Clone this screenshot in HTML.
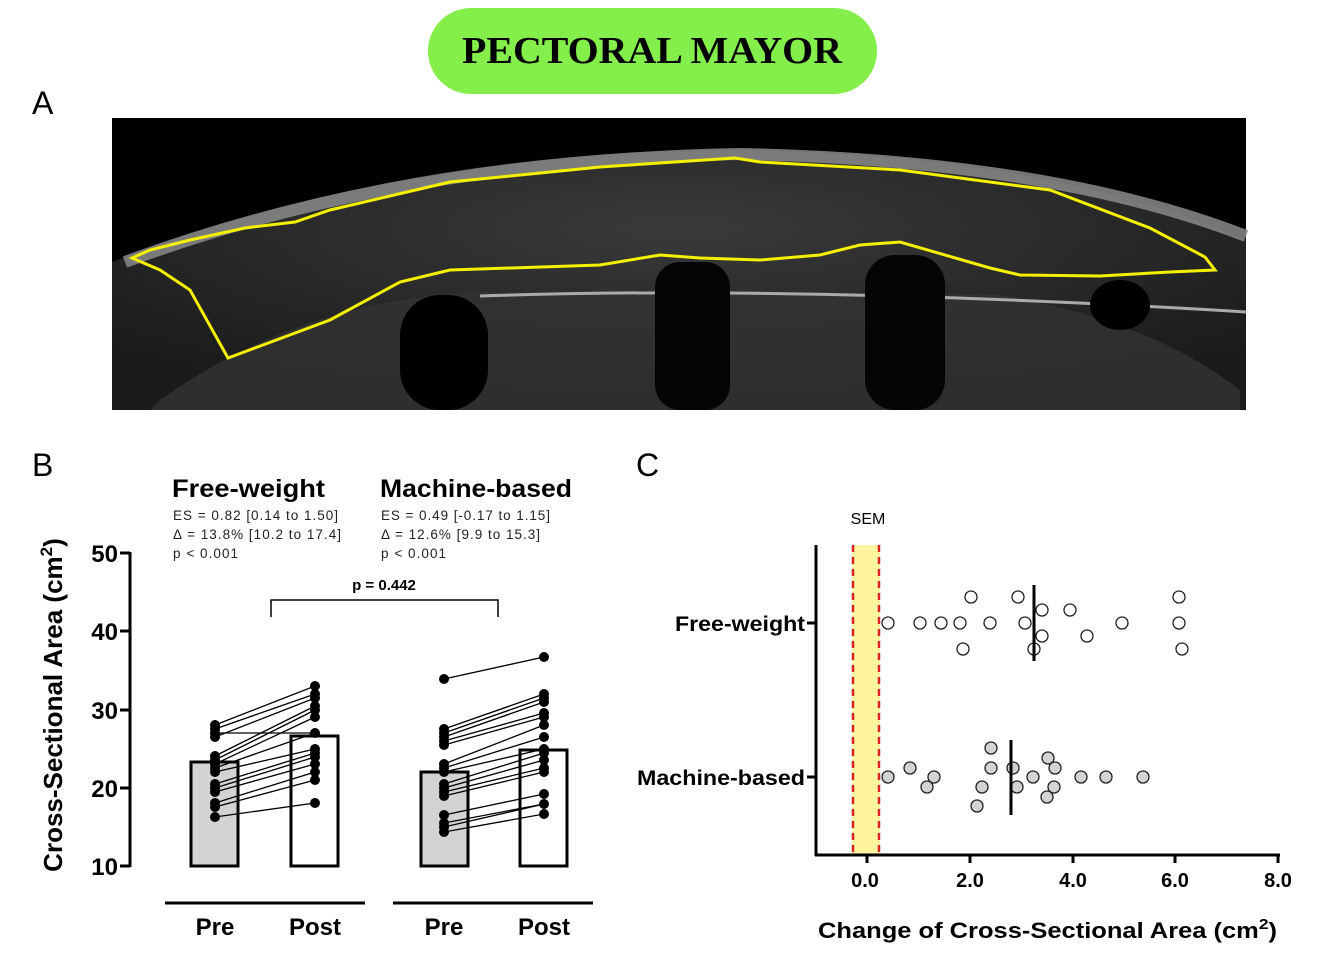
<!DOCTYPE html>
<html><head><meta charset="utf-8"><style>
html,body{margin:0;padding:0;background:#fff;}
svg{display:block;font-family:"Liberation Sans",Arial,sans-serif;}
</style></head><body>
<svg width="1332" height="956" viewBox="0 0 1332 956" xmlns="http://www.w3.org/2000/svg">
<defs>
<radialGradient id="g1" cx="0.5" cy="0.3" r="0.7"><stop offset="0" stop-color="#3a3a3a"/><stop offset="1" stop-color="#1a1a1a"/></radialGradient>
</defs>
<!-- title -->
<rect x="428" y="8" width="449" height="86" rx="43" fill="#84ee4a"/>
<text x="652" y="63" text-anchor="middle" font-family="Liberation Serif,serif" font-weight="bold" font-size="38" textLength="380" lengthAdjust="spacingAndGlyphs">PECTORAL MAYOR</text>
<text x="32" y="114" font-size="32">A</text>
<!-- ultrasound -->
<rect x="112" y="118" width="1134" height="292" fill="#000"/>
<path d="M112,262 Q400,150 740,150 Q1050,155 1246,240 L1246,410 L112,410 Z" fill="url(#g1)"/>
<path d="M125,262 Q400,160 740,154 Q1050,160 1246,236" fill="none" stroke="#8a8a8a" stroke-width="12" opacity="0.85"/>
<path d="M160,400 Q300,300 480,292 L1000,295 Q1150,320 1240,390 L1240,410 L150,410 Z" fill="#333" opacity="0.8"/>
<path d="M480,296 Q800,285 1246,312" fill="none" stroke="#aaa" stroke-width="3"/>
<rect x="400" y="295" width="88" height="115" rx="40" fill="#000"/>
<rect x="655" y="262" width="75" height="148" rx="25" fill="#050505"/>
<rect x="865" y="255" width="80" height="155" rx="30" fill="#050505"/>
<ellipse cx="1120" cy="305" rx="30" ry="25" fill="#000"/>
<path d="M132,258 L150,250 L190,240 L245,228 L295,222 L330,210 L450,182 L600,167 L735,158 L760,162 L900,170 L1050,190 L1150,228 L1205,257 L1215,270 L1170,272 L1100,276 L1020,275 L990,268 L900,242 L860,245 L820,255 L760,260 L700,258 L660,255 L600,265 L450,270 L400,282 L330,320 L228,358 L190,290 L160,270 Z" fill="none" stroke="#f5f000" stroke-width="3"/>
<!-- B -->
<text x="32" y="476" font-size="32">B</text>
<text x="172" y="497" font-size="25" font-weight="bold" textLength="153" lengthAdjust="spacingAndGlyphs">Free-weight</text>
<text x="380" y="497" font-size="25" font-weight="bold" textLength="192" lengthAdjust="spacingAndGlyphs">Machine-based</text>
<g font-size="13.5" fill="#222">
<text x="173" y="520" textLength="165">ES = 0.82 [0.14 to 1.50]</text>
<text x="173" y="539" textLength="168">Δ = 13.8% [10.2 to 17.4]</text>
<text x="173" y="558" textLength="65">p &lt; 0.001</text>
<text x="381" y="520" textLength="169">ES = 0.49 [-0.17 to 1.15]</text>
<text x="381" y="539" textLength="159">Δ = 12.6% [9.9 to 15.3]</text>
<text x="381" y="558" textLength="65">p &lt; 0.001</text>
</g>
<text transform="translate(62,705) rotate(-90)" text-anchor="middle" font-size="26" font-weight="bold">Cross-Sectional Area (cm<tspan font-size="17" dy="-10">2</tspan><tspan dy="10">)</tspan></text>
<g stroke="#000" stroke-width="3">
<line x1="130" y1="552" x2="130" y2="867"/>
<line x1="120" y1="553" x2="130" y2="553"/><line x1="120" y1="631" x2="130" y2="631"/><line x1="120" y1="710" x2="130" y2="710"/><line x1="120" y1="788" x2="130" y2="788"/><line x1="120" y1="866" x2="130" y2="866"/>
<line x1="165" y1="903" x2="365" y2="903"/><line x1="393" y1="903" x2="593" y2="903"/>
</g>
<g font-size="24" font-weight="bold" text-anchor="end">
<text x="118" y="562">50</text><text x="118" y="640">40</text><text x="118" y="719">30</text><text x="118" y="797">20</text><text x="118" y="875">10</text>
</g>
<g font-size="24" font-weight="bold" text-anchor="middle">
<text x="215" y="935">Pre</text><text x="315" y="935">Post</text><text x="444" y="935">Pre</text><text x="544" y="935">Post</text>
</g>
<g stroke="#000" stroke-width="3">
<rect x="191" y="762" width="47" height="104" fill="#d3d3d3"/>
<rect x="291" y="736" width="47" height="130" fill="#fff"/>
<rect x="421" y="772" width="47" height="94" fill="#d3d3d3"/>
<rect x="520" y="750" width="47" height="116" fill="#fff"/>
</g>
<path d="M271,617 L271,600 L498,600 L498,617" fill="none" stroke="#000" stroke-width="1.5"/>
<text x="384" y="590" text-anchor="middle" font-size="15" font-weight="bold">p = 0.442</text>
<g stroke="#000" stroke-width="1.3">
<line x1="215" y1="725" x2="315" y2="686"/><line x1="215" y1="729" x2="315" y2="694"/><line x1="215" y1="733" x2="315" y2="733"/><line x1="215" y1="737" x2="315" y2="698"/>
<line x1="215" y1="756" x2="315" y2="706"/><line x1="215" y1="760" x2="315" y2="710"/><line x1="215" y1="764" x2="315" y2="717"/><line x1="215" y1="768" x2="315" y2="733"/>
<line x1="215" y1="772" x2="315" y2="749"/><line x1="215" y1="784" x2="315" y2="753"/><line x1="215" y1="788" x2="315" y2="757"/><line x1="215" y1="792" x2="315" y2="764"/>
<line x1="215" y1="803" x2="315" y2="772"/><line x1="215" y1="807" x2="315" y2="780"/><line x1="215" y1="817" x2="315" y2="803"/>
<line x1="444" y1="679" x2="544" y2="657"/><line x1="444" y1="729" x2="544" y2="694"/><line x1="444" y1="733" x2="544" y2="698"/><line x1="444" y1="737" x2="544" y2="702"/>
<line x1="444" y1="741" x2="544" y2="713"/><line x1="444" y1="745" x2="544" y2="717"/><line x1="444" y1="764" x2="544" y2="725"/><line x1="444" y1="768" x2="544" y2="737"/>
<line x1="444" y1="772" x2="544" y2="749"/><line x1="444" y1="784" x2="544" y2="753"/><line x1="444" y1="788" x2="544" y2="760"/><line x1="444" y1="792" x2="544" y2="768"/>
<line x1="444" y1="796" x2="544" y2="772"/><line x1="444" y1="815" x2="544" y2="794"/><line x1="444" y1="823" x2="544" y2="804"/><line x1="444" y1="827" x2="544" y2="804"/><line x1="444" y1="832" x2="544" y2="814"/>
</g>
<g fill="#000">
<circle cx="215" cy="725" r="5"/><circle cx="215" cy="729" r="5"/><circle cx="215" cy="733" r="5"/><circle cx="215" cy="737" r="5"/><circle cx="215" cy="756" r="5"/><circle cx="215" cy="760" r="5"/><circle cx="215" cy="764" r="5"/><circle cx="215" cy="768" r="5"/><circle cx="215" cy="772" r="5"/><circle cx="215" cy="784" r="5"/><circle cx="215" cy="788" r="5"/><circle cx="215" cy="792" r="5"/><circle cx="215" cy="803" r="5"/><circle cx="215" cy="807" r="5"/><circle cx="215" cy="817" r="5"/>
<circle cx="315" cy="686" r="5"/><circle cx="315" cy="694" r="5"/><circle cx="315" cy="698" r="5"/><circle cx="315" cy="706" r="5"/><circle cx="315" cy="710" r="5"/><circle cx="315" cy="717" r="5"/><circle cx="315" cy="733" r="5"/><circle cx="315" cy="749" r="5"/><circle cx="315" cy="753" r="5"/><circle cx="315" cy="757" r="5"/><circle cx="315" cy="764" r="5"/><circle cx="315" cy="772" r="5"/><circle cx="315" cy="780" r="5"/><circle cx="315" cy="803" r="5"/>
<circle cx="444" cy="679" r="5"/><circle cx="444" cy="729" r="5"/><circle cx="444" cy="733" r="5"/><circle cx="444" cy="737" r="5"/><circle cx="444" cy="741" r="5"/><circle cx="444" cy="745" r="5"/><circle cx="444" cy="764" r="5"/><circle cx="444" cy="768" r="5"/><circle cx="444" cy="772" r="5"/><circle cx="444" cy="784" r="5"/><circle cx="444" cy="788" r="5"/><circle cx="444" cy="792" r="5"/><circle cx="444" cy="796" r="5"/><circle cx="444" cy="815" r="5"/><circle cx="444" cy="823" r="5"/><circle cx="444" cy="827" r="5"/><circle cx="444" cy="832" r="5"/>
<circle cx="544" cy="657" r="5"/><circle cx="544" cy="694" r="5"/><circle cx="544" cy="698" r="5"/><circle cx="544" cy="702" r="5"/><circle cx="544" cy="713" r="5"/><circle cx="544" cy="717" r="5"/><circle cx="544" cy="725" r="5"/><circle cx="544" cy="737" r="5"/><circle cx="544" cy="749" r="5"/><circle cx="544" cy="753" r="5"/><circle cx="544" cy="760" r="5"/><circle cx="544" cy="768" r="5"/><circle cx="544" cy="772" r="5"/><circle cx="544" cy="794" r="5"/><circle cx="544" cy="804" r="5"/><circle cx="544" cy="814" r="5"/>
</g>
<!-- C -->
<text x="636" y="476" font-size="32">C</text>
<text x="868" y="524" text-anchor="middle" font-size="16">SEM</text>
<rect x="852" y="545" width="28" height="310" fill="#fff5a0"/>
<g stroke="#d22" stroke-width="2.5" stroke-dasharray="7,5"><line x1="853" y1="545" x2="853" y2="855"/><line x1="879" y1="545" x2="879" y2="855"/></g>
<g stroke="#000" stroke-width="3">
<line x1="816" y1="545" x2="816" y2="856"/><line x1="815" y1="855" x2="1280" y2="855"/>
<line x1="807" y1="623" x2="816" y2="623"/><line x1="807" y1="777" x2="816" y2="777"/>
<line x1="867" y1="855" x2="867" y2="863"/><line x1="970" y1="855" x2="970" y2="863"/><line x1="1073" y1="855" x2="1073" y2="863"/><line x1="1175" y1="855" x2="1175" y2="863"/><line x1="1278" y1="855" x2="1278" y2="863"/>
</g>
<g font-size="20" font-weight="bold" text-anchor="middle">
<text x="865" y="887">0.0</text><text x="970" y="887">2.0</text><text x="1073" y="887">4.0</text><text x="1175" y="887">6.0</text><text x="1278" y="887">8.0</text>
</g>
<text x="675" y="631" font-size="21" font-weight="bold" textLength="130" lengthAdjust="spacingAndGlyphs">Free-weight</text>
<text x="637" y="785" font-size="21" font-weight="bold" textLength="168" lengthAdjust="spacingAndGlyphs">Machine-based</text>
<text x="818" y="938" font-size="22" font-weight="bold" textLength="459" lengthAdjust="spacingAndGlyphs">Change of Cross-Sectional Area (cm<tspan font-size="15" dy="-9">2</tspan><tspan dy="9">)</tspan></text>
<g fill="#fff" stroke="#222" stroke-width="1.3">
<circle cx="888" cy="623" r="6"/><circle cx="920" cy="623" r="6"/><circle cx="941" cy="623" r="6"/><circle cx="960" cy="623" r="6"/><circle cx="990" cy="623" r="6"/><circle cx="1025" cy="623" r="6"/><circle cx="971" cy="597" r="6"/><circle cx="1018" cy="597" r="6"/><circle cx="1042" cy="610" r="6"/><circle cx="1070" cy="610" r="6"/><circle cx="1042" cy="636" r="6"/><circle cx="1087" cy="636" r="6"/><circle cx="963" cy="649" r="6"/><circle cx="1034" cy="649" r="6"/><circle cx="1122" cy="623" r="6"/><circle cx="1179" cy="597" r="6"/><circle cx="1179" cy="623" r="6"/><circle cx="1182" cy="649" r="6"/>
</g>
<line x1="1034" y1="585" x2="1034" y2="661" stroke="#000" stroke-width="3"/>
<g fill="#d3d3d3" stroke="#222" stroke-width="1.3">
<circle cx="888" cy="777" r="6"/><circle cx="910" cy="768" r="6"/><circle cx="934" cy="777" r="6"/><circle cx="927" cy="787" r="6"/><circle cx="991" cy="748" r="6"/><circle cx="991" cy="768" r="6"/><circle cx="982" cy="787" r="6"/><circle cx="977" cy="806" r="6"/><circle cx="1013" cy="768" r="6"/><circle cx="1017" cy="787" r="6"/><circle cx="1033" cy="777" r="6"/><circle cx="1048" cy="758" r="6"/><circle cx="1055" cy="768" r="6"/><circle cx="1054" cy="787" r="6"/><circle cx="1047" cy="797" r="6"/><circle cx="1081" cy="777" r="6"/><circle cx="1106" cy="777" r="6"/><circle cx="1143" cy="777" r="6"/>
</g>
<line x1="1011" y1="740" x2="1011" y2="815" stroke="#000" stroke-width="3"/>
</svg>
</body></html>
